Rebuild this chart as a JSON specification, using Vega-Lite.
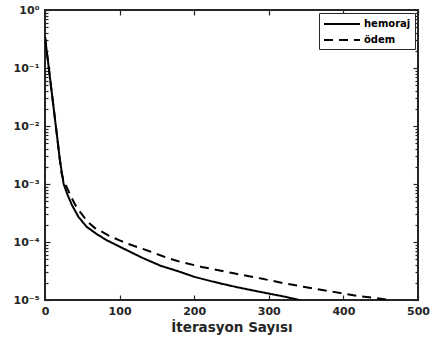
{
  "$schema": "https://vega.github.io/schema/vega-lite/v6.json",
  "width": 373,
  "height": 290,
  "autosize": "none",
  "padding": {"left": 45, "top": 10, "right": 17, "bottom": 45},
  "background": "white",
  "config": {
    "font": "DejaVu Sans",
    "view": {"stroke": "#262626", "strokeWidth": 2},
    "axis": {
      "domain": false,
      "grid": false,
      "tickColor": "#262626",
      "tickWidth": 1.2,
      "labelColor": "#262626",
      "labelFont": "DejaVu Sans",
      "labelFontWeight": "bold",
      "labelFontSize": 11,
      "titleFont": "DejaVu Sans",
      "titleFontWeight": "bold",
      "titleFontSize": 13.5,
      "titleColor": "#262626",
      "labelOverlap": false,
      "labelFlush": false
    }
  },
  "data": {
    "values": [
      {"s": "hemoraj", "it": 0, "v": 0.347},
      {"s": "hemoraj", "it": 5, "v": 0.102},
      {"s": "hemoraj", "it": 10, "v": 0.0302},
      {"s": "hemoraj", "it": 15, "v": 0.00891},
      {"s": "hemoraj", "it": 20, "v": 0.00257},
      {"s": "hemoraj", "it": 25, "v": 0.001},
      {"s": "hemoraj", "it": 30, "v": 0.000661},
      {"s": "hemoraj", "it": 36, "v": 0.000437},
      {"s": "hemoraj", "it": 45, "v": 0.000269},
      {"s": "hemoraj", "it": 56, "v": 0.000182},
      {"s": "hemoraj", "it": 70, "v": 0.000135},
      {"s": "hemoraj", "it": 83, "v": 0.000107},
      {"s": "hemoraj", "it": 100, "v": 0.0000832},
      {"s": "hemoraj", "it": 111, "v": 0.0000708},
      {"s": "hemoraj", "it": 130, "v": 0.0000537},
      {"s": "hemoraj", "it": 155, "v": 0.0000389},
      {"s": "hemoraj", "it": 180, "v": 0.0000309},
      {"s": "hemoraj", "it": 200, "v": 0.0000251},
      {"s": "hemoraj", "it": 230, "v": 0.00002},
      {"s": "hemoraj", "it": 254, "v": 0.000017},
      {"s": "hemoraj", "it": 280, "v": 0.0000145},
      {"s": "hemoraj", "it": 300, "v": 0.0000129},
      {"s": "hemoraj", "it": 320, "v": 0.0000115},
      {"s": "hemoraj", "it": 341, "v": 0.00001},
      {"s": "ödem", "it": 0, "v": 0.347},
      {"s": "ödem", "it": 5, "v": 0.102},
      {"s": "ödem", "it": 10, "v": 0.0302},
      {"s": "ödem", "it": 15, "v": 0.00891},
      {"s": "ödem", "it": 20, "v": 0.00257},
      {"s": "ödem", "it": 22, "v": 0.00158},
      {"s": "ödem", "it": 25, "v": 0.00112},
      {"s": "ödem", "it": 29, "v": 0.000891},
      {"s": "ödem", "it": 35, "v": 0.000603},
      {"s": "ödem", "it": 41, "v": 0.000427},
      {"s": "ödem", "it": 47, "v": 0.000331},
      {"s": "ödem", "it": 57, "v": 0.000224},
      {"s": "ödem", "it": 67, "v": 0.000174},
      {"s": "ödem", "it": 87, "v": 0.000126},
      {"s": "ödem", "it": 100, "v": 0.000107},
      {"s": "ödem", "it": 111, "v": 0.0000933},
      {"s": "ödem", "it": 140, "v": 0.0000692},
      {"s": "ödem", "it": 163, "v": 0.0000537},
      {"s": "ödem", "it": 181, "v": 0.0000457},
      {"s": "ödem", "it": 210, "v": 0.0000372},
      {"s": "ödem", "it": 253, "v": 0.0000288},
      {"s": "ödem", "it": 290, "v": 0.0000234},
      {"s": "ödem", "it": 320, "v": 0.0000195},
      {"s": "ödem", "it": 350, "v": 0.0000166},
      {"s": "ödem", "it": 387, "v": 0.0000138},
      {"s": "ödem", "it": 420, "v": 0.0000117},
      {"s": "ödem", "it": 450, "v": 0.0000105},
      {"s": "ödem", "it": 462, "v": 0.00001}
    ]
  },
  "layer": [
    {
      "mark": {"type": "line", "strokeWidth": 2, "color": "black", "clip": true},
      "encoding": {
        "x": {
          "field": "it", "type": "quantitative",
          "scale": {"domain": [0, 500], "nice": false, "zero": false},
          "axis": {"orient": "bottom", "values": [0, 100, 200, 300, 400, 500], "tickSize": -5, "labelPadding": 10, "title": "İterasyon Sayısı", "titlePadding": 4}
        },
        "y": {
          "field": "v", "type": "quantitative",
          "scale": {"type": "log", "domain": [0.00001, 1], "nice": false},
          "axis": {
            "orient": "left",
            "title": null,
            "values": [0.00001, 0.00002, 0.00003, 0.00004, 0.00005, 0.00006, 0.00007, 0.00008, 0.00009, 0.0001, 0.0002, 0.0003, 0.0004, 0.0005, 0.0006, 0.0007, 0.0008, 0.0009, 0.001, 0.002, 0.003, 0.004, 0.005, 0.006, 0.007, 0.008, 0.009, 0.01, 0.02, 0.03, 0.04, 0.05, 0.06, 0.07, 0.08, 0.09, 0.1, 0.2, 0.3, 0.4, 0.5, 0.6, 0.7, 0.8, 0.9, 1],
            "labelExpr": "abs(log(datum.value)/LN10 - round(log(datum.value)/LN10)) < 0.001 ? '10' + ['⁰','⁻¹','⁻²','⁻³','⁻⁴','⁻⁵'][round(-log(datum.value)/LN10)] : ''",
            "tickSize": {"condition": {"test": "abs(log(datum.value)/LN10 - round(log(datum.value)/LN10)) < 0.001", "value": -5}, "value": -3},
            "labelPadding": 11
          }
        },
        "strokeDash": {
          "field": "s", "type": "nominal",
          "scale": {"domain": ["hemoraj", "ödem"], "range": [[1, 0], [9, 6]]},
          "legend": {
            "orient": "top-right", "offset": 3, "title": null,
            "strokeColor": "#262626", "fillColor": "white", "padding": 4,
            "symbolType": "M-1,0H5", "symbolSize": 144, "symbolStrokeWidth": 2,
            "symbolStrokeColor": "black", "symbolFillColor": "transparent",
            "labelFontSize": 10, "labelFontWeight": "bold", "labelOffset": 27,
            "labelColor": "black", "rowPadding": 4, "labelFont": "DejaVu Sans"
          }
        }
      }
    },
    {
      "mark": {"type": "line", "opacity": 0},
      "encoding": {
        "x": {
          "field": "it", "type": "quantitative",
          "axis": {"orient": "top", "values": [0, 100, 200, 300, 400, 500], "tickSize": -5, "labels": false, "title": null}
        },
        "y": {
          "field": "v", "type": "quantitative",
          "axis": {
            "orient": "right", "title": null, "labels": false,
            "values": [0.00001, 0.00002, 0.00003, 0.00004, 0.00005, 0.00006, 0.00007, 0.00008, 0.00009, 0.0001, 0.0002, 0.0003, 0.0004, 0.0005, 0.0006, 0.0007, 0.0008, 0.0009, 0.001, 0.002, 0.003, 0.004, 0.005, 0.006, 0.007, 0.008, 0.009, 0.01, 0.02, 0.03, 0.04, 0.05, 0.06, 0.07, 0.08, 0.09, 0.1, 0.2, 0.3, 0.4, 0.5, 0.6, 0.7, 0.8, 0.9, 1],
            "tickSize": {"condition": {"test": "abs(log(datum.value)/LN10 - round(log(datum.value)/LN10)) < 0.001", "value": -5}, "value": -3}
          }
        },
        "detail": {"field": "s", "type": "nominal"}
      }
    }
  ],
  "resolve": {"axis": {"x": "independent", "y": "independent"}}
}
